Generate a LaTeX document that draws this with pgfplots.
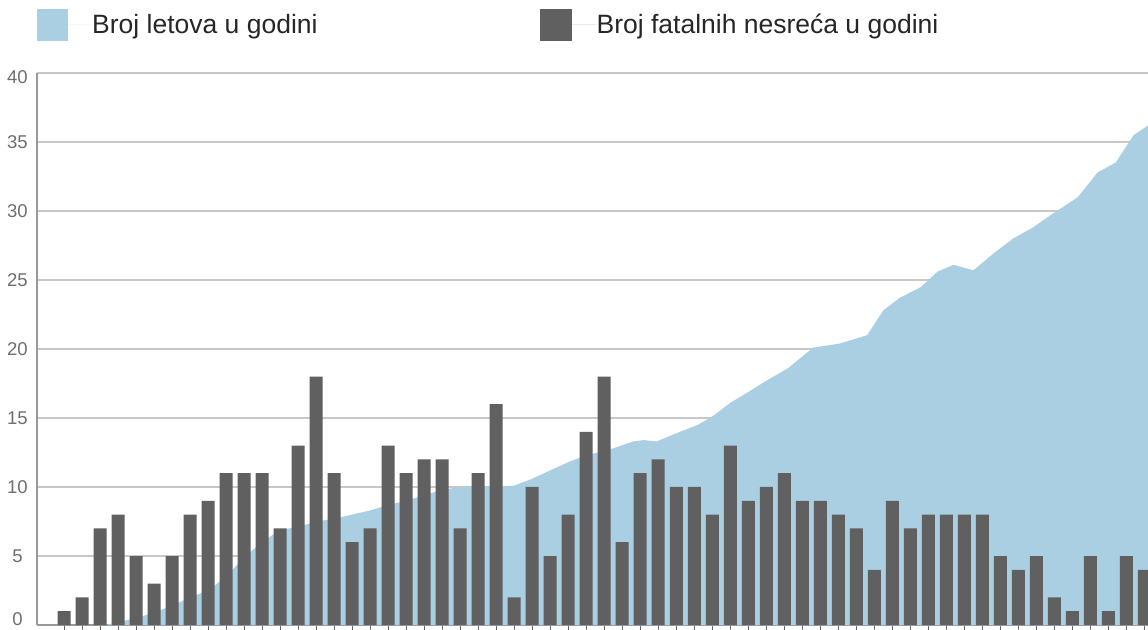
\documentclass[border=0pt]{standalone}
\usepackage{fontspec}
\setmainfont{Liberation Sans}
\usepackage{pgfplots}
\pgfplotsset{compat=1.18}
\definecolor{areac}{RGB}{170,207,226}
\definecolor{barc}{RGB}{96,96,96}
\definecolor{gridc}{RGB}{200,200,200}
\definecolor{tickc}{RGB}{110,110,110}
\begin{document}
\begin{tikzpicture}
\useasboundingbox (0,0) rectangle (1148pt,629pt);
\begin{axis}[
 at={(37pt,4pt)}, anchor=south west,
 scale only axis, width=1111pt, height=552pt,
 xmin=-1.5, xmax=60.2, ymin=0, ymax=40,
 axis x line*=bottom, axis y line*=left,
 axis line style={draw=black!40, line width=1.5pt, -},
 xtick={0,...,60}, xticklabels={},
 x tick style={draw=black!60, line width=1pt},
 tick align=outside, major tick length=5pt,
 ytick={0,5,...,40},
 yticklabels={\raisebox{6pt}[\height][\depth]{0},5,10,15,20,25,30,35,\raisebox{-4pt}[\height][\depth]{40}},
 y tick style={draw=none},
 ymajorgrids, grid style={draw=gridc, line width=2pt},
 yticklabel style={anchor=center, xshift=-14.5pt, font=\fontsize{18.5}{18.5}\selectfont, text=tickc},
 /pgf/number format/assume math mode=true,
 legend columns=2,
 legend style={at={(0,1.087)}, anchor=west, draw=none, fill=none, inner sep=0pt,
   font=\fontsize{26.5}{26.5}\selectfont, text=black!85,
   /tikz/every even column/.append style={column sep=222pt}, nodes={inner sep=0pt}},
 clip=true,
]
\addplot[fill=areac, draw=none,
  legend image code/.code={\fill[areac] (0pt,-16pt) rectangle (31pt,16pt); \path (31pt,0pt) -- (55pt,0pt);}]
 coordinates {
 (2.3,0) (3,0.2) (4,0.5) (5,0.9) (6,1.4) (7,2.0) (8,2.5) (9,3.5) (10,4.9)
 (11,6.0) (12,6.9) (13,7.1) (14,7.5) (15,7.7) (16,8.0) (17,8.3) (18,8.7)
 (19,9.0) (20,9.4) (21,9.8) (22,10.0) (23,10.1) (24,10.0) (25,10.1) (26,10.6)
 (27,11.2) (28,11.8) (29,12.3) (30,12.6) (30.5,12.8) (31.6,13.3) (32.2,13.4)
 (32.9,13.3) (34.2,14.0) (35.2,14.5) (36.1,15.2) (37,16.1) (37.9,16.8)
 (39,17.7) (40.2,18.6) (41.6,20.1) (43.1,20.4) (44.6,21.0) (45.5,22.8)
 (46.4,23.7) (47.6,24.5) (48.5,25.6) (49.4,26.1) (50.5,25.7) (51.6,26.9)
 (52.7,28.0) (53.8,28.8) (54.9,29.8) (56.3,31.0) (57.4,32.8) (58.4,33.5)
 (59.4,35.5) (60.2,36.2)
 } \closedcycle;
\addlegendentry{Broj letova u godini}
\addplot[ybar, bar width=13pt, fill=barc, draw=none,
  legend image code/.code={\fill[barc] (0pt,-16pt) rectangle (32pt,16pt); \path (32pt,0pt) -- (57pt,0pt);}]
 coordinates {
 (0,1) (1,2) (2,7) (3,8) (4,5) (5,3) (6,5) (7,8) (8,9) (9,11)
 (10,11) (11,11) (12,7) (13,13) (14,18) (15,11) (16,6) (17,7) (18,13) (19,11)
 (20,12) (21,12) (22,7) (23,11) (24,16) (25,2) (26,10) (27,5) (28,8) (29,14)
 (30,18) (31,6) (32,11) (33,12) (34,10) (35,10) (36,8) (37,13) (38,9) (39,10)
 (40,11) (41,9) (42,9) (43,8) (44,7) (45,4) (46,9) (47,7) (48,8) (49,8)
 (50,8) (51,8) (52,5) (53,4) (54,5) (55,2) (56,1) (57,5) (58,1) (59,5)
 (60,4)
 };
\addlegendentry{Broj fatalnih nesreća u godini}
\end{axis}
\end{tikzpicture}
\end{document}
